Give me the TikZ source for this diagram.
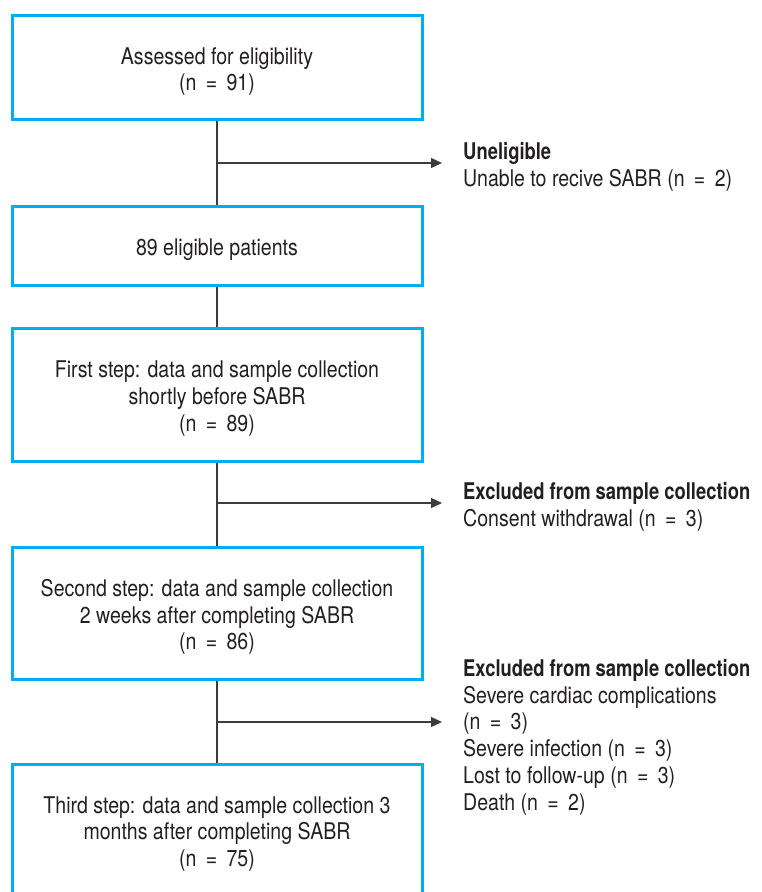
\documentclass[tikz,border=0pt]{standalone}
\usepackage{fontspec}
\setmainfont{TeX Gyre Heros}[FakeStretch=0.85, BoldFeatures={FakeStretch=0.80}]
\usetikzlibrary{arrows.meta}
\definecolor{boxblue}{HTML}{00AEEF}
\definecolor{linegray}{HTML}{3C3C3C}
\definecolor{txt}{HTML}{231F20}
\newcommand{\myeq}{\hspace{0.17em}=\hspace{0.17em}}
\tikzset{
  flowbox/.style={draw=boxblue, line width=3pt, minimum width=410pt, inner sep=0pt},
  boxtext/.style={align=center, text=txt, font=\fontsize{23}{26.6}\selectfont, inner sep=0pt},
  sidetext/.style={anchor=base west, align=left, inner sep=0pt, text=txt,
    font=\fontsize{23}{26.7}\selectfont},
  conn/.style={draw=linegray, line width=1.3pt},
  arr/.style={draw=linegray, line width=1.3pt, -{Triangle[length=11pt,width=10pt]}, color=linegray}
}
\begin{document}
\begin{tikzpicture}[x=1pt,y=-1pt]
\useasboundingbox (0,0) rectangle (761,892);
\clip (0,0) rectangle (761,892);

\node[flowbox, minimum height=104pt] (b1) at (217,67) {};
\node[flowbox, minimum height=79pt] (b2) at (217,245.5) {};
\node[flowbox, minimum height=133pt] (b3) at (217,394.5) {};
\node[flowbox, minimum height=132pt] (b4) at (217,613) {};
\node[flowbox, minimum height=136pt] (b5) at (217,832) {};

\node[boxtext] (t1) at ([yshift=-4.5pt]b1.center) {Assessed for eligibility\\(n \myeq{} 91)};
\node[boxtext] (t2) at ([yshift=-4pt]b2.center) {89 eligible patients};
\node[boxtext] (t3) at ([yshift=-4pt]b3.center) {First step: data and sample collection\\shortly before SABR\\(n \myeq{} 89)};
\node[boxtext] (t4) at ([yshift=-4pt]b4.center) {Second step: data and sample collection\\2 weeks after completing SABR\\(n \myeq{} 86)};
\node[boxtext] (t5) at ([yshift=-2pt]b5.center) {Third step: data and sample collection 3\\months after completing SABR\\(n \myeq{} 75)};

\draw[conn] (b1.south) -- (b2.north);
\draw[conn] (b2.south) -- (b3.north);
\draw[conn] (b3.south) -- (b4.north);
\draw[conn] (b4.south) -- (b5.north);

\coordinate (j1) at (217,163);
\coordinate (e1) at (442,163);
\coordinate (j2) at (217,503);
\coordinate (e2) at (442,503);
\coordinate (j3) at (217,722);
\coordinate (e3) at (442,722);
\draw[arr] (j1) -- (e1);
\draw[arr] (j2) -- (e2);
\draw[arr] (j3) -- (e3);

\node[sidetext] (s1) at (463,186) {\textbf{Uneligible}\\Unable to recive SABR (n \myeq{} 2)};
\node[sidetext] (s2) at (463,526) {\textbf{Excluded from sample collection}\\Consent withdrawal (n \myeq{} 3)};
\node[sidetext] (s3) at (463,810) {\textbf{Excluded from sample collection}\\Severe cardiac complications\\(n \myeq{} 3)\\Severe infection (n \myeq{} 3)\\Lost to follow-up (n \myeq{} 3)\\Death (n \myeq{} 2)};
\end{tikzpicture}
\end{document}
